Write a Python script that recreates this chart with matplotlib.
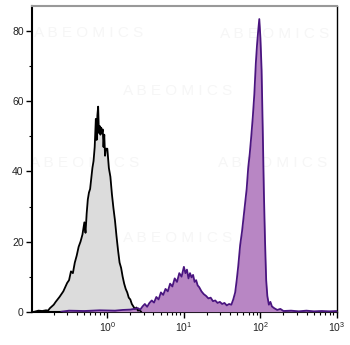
import numpy as np
import matplotlib
matplotlib.use("Agg")
import matplotlib.pyplot as plt
from matplotlib.ticker import FixedLocator, NullFormatter

plt.rcParams['font.family'] = ['Liberation Sans', 'DejaVu Sans']
plt.rcParams['mathtext.default'] = 'regular'

# isotype control histogram (log10 of fluorescence, count)
ctrl_log = [-0.95, -0.90, -0.85, -0.80, -0.775, -0.75, -0.725, -0.70, -0.675, -0.65,
            -0.625, -0.60, -0.575, -0.55, -0.525, -0.50, -0.475, -0.45, -0.425, -0.40,
            -0.375, -0.35, -0.325, -0.30, -0.285, -0.27, -0.255, -0.24, -0.225, -0.21,
            -0.195, -0.18, -0.165, -0.15, -0.14, -0.13, -0.12, -0.11, -0.10, -0.09,
            -0.08, -0.07, -0.06, -0.05, -0.04, -0.03, -0.02, 0.0, 0.02, 0.04,
            0.06, 0.08, 0.10, 0.12, 0.14, 0.16, 0.18, 0.20, 0.22, 0.24,
            0.26, 0.28, 0.30, 0.32, 0.34, 0.36, 0.38, 0.40, 0.42, 0.44]
ctrl_cnt = [0.0, 0.3, 0.2, 0.4, 0.3, 1.0, 1.5, 2.0, 2.8, 3.5,
            4.2, 5.0, 5.8, 7.0, 8.2, 9.0, 11.5, 11.0, 14.0, 16.0,
            18.5, 20.0, 22.0, 25.5, 22.5, 28.0, 32.0, 34.0, 35.0, 38.0,
            41.0, 43.0, 47.0, 55.0, 49.0, 56.0, 58.5, 51.0, 53.0, 50.5,
            52.5, 51.0, 52.0, 47.0, 50.5, 44.5, 46.5, 46.5, 41.0, 38.5,
            33.5, 29.5, 26.0, 21.5, 17.5, 14.0, 12.5, 10.0, 8.0, 6.5,
            5.5, 4.0, 3.5, 2.2, 1.5, 0.8, 1.2, 0.3, 0.5, 0.0]

# stained sample histogram
stain_log = [-0.6, -0.5, -0.3, -0.1, 0.1, 0.2, 0.3, 0.35, 0.40, 0.43,
             0.46, 0.49, 0.52, 0.55, 0.58, 0.61, 0.64, 0.67, 0.70, 0.73,
             0.76, 0.79, 0.82, 0.85, 0.88, 0.91, 0.94, 0.97, 1.00, 1.02,
             1.04, 1.06, 1.08, 1.10, 1.12, 1.14, 1.16, 1.18, 1.20, 1.23,
             1.26, 1.29, 1.32, 1.35, 1.38, 1.41, 1.44, 1.47, 1.50, 1.53,
             1.56, 1.59, 1.62, 1.645, 1.67, 1.69, 1.71, 1.735, 1.76, 1.78,
             1.80, 1.82, 1.84, 1.86, 1.88, 1.90, 1.92, 1.94, 1.955, 1.97,
             1.985, 2.00, 2.015, 2.03, 2.045, 2.06, 2.075, 2.09, 2.11, 2.13,
             2.15, 2.18, 2.22, 2.26, 2.30, 2.40, 2.5, 2.6, 2.7, 2.8, 2.9, 3.0]
stain_cnt = [0.0, 0.3, 0.2, 0.4, 0.3, 0.5, 0.6, 0.8, 1.0, 0.6,
             1.5, 2.2, 1.4, 2.5, 3.2, 2.6, 4.2, 3.5, 5.5, 4.8,
             6.5, 5.8, 8.0, 7.2, 9.5, 8.5, 11.0, 10.0, 12.8, 11.0,
             12.0, 9.5, 11.0, 9.8, 10.5, 8.5, 9.0, 7.5, 7.0, 5.8,
             5.0, 4.5, 3.8, 4.0, 3.0, 3.2, 2.5, 2.8, 2.2, 2.5,
             1.8, 2.2, 2.0, 3.5, 5.5, 9.0, 13.0, 19.0, 23.0, 27.0,
             31.0, 35.0, 41.0, 45.0, 50.0, 55.5, 62.0, 71.0, 76.0, 80.0,
             83.5, 78.0, 69.0, 52.0, 34.0, 20.0, 9.0, 4.5, 2.0, 2.8,
             1.5, 1.0, 0.5, 0.8, 0.2, 0.3, 0.1, 0.3, 0.1, 0.2, 0.1, 0.2]

y_ticks = [0, 20, 40, 60, 80]
x_ticks = [1, 10, 100, 1000]
x_labels = ['$10^{0}$', '$10^{1}$', '$10^{2}$', '$10^{3}$']

xc = 10 ** np.array(ctrl_log)
xs = 10 ** np.array(stain_log)

fig = plt.figure(figsize=(3.5, 3.45), dpi=100)

# faint watermark, drawn underneath the axes
wm = [(89, 33), (275, 34), (178, 91), (85, 163), (273, 163), (178, 238)]
for px, py in wm:
    fig.text(px / 350, 1 - py / 345, 'A B E O M I C S', fontsize=11,
             color='#f6f6f6', ha='center', va='center', zorder=-5)

ax = fig.add_axes([32 / 350, 33.3 / 345, 305 / 350, 306 / 345])
ax.patch.set_alpha(0)

ax.fill_between(xc, ctrl_cnt, color='#dcdcdc', lw=0, zorder=2)
ax.fill_between(xs, stain_cnt, color='#b886c4', lw=0, zorder=3)
ax.plot(xc, ctrl_cnt, color='black', lw=1.3, zorder=4)
ax.plot(xs, stain_cnt, color='#4a1580', lw=1.3, zorder=5)

ax.set_xscale('log')
ax.set_xlim(10 ** -0.984, 1000)
ax.set_ylim(0, 87.3)

ax.yaxis.set_major_locator(FixedLocator(y_ticks))
ax.yaxis.set_minor_locator(FixedLocator([10, 30, 50, 70]))
ax.set_xticks(x_ticks)
ax.set_xticklabels(x_labels)
ax.xaxis.set_minor_formatter(NullFormatter())

ax.tick_params(axis='both', which='major', length=4, width=1, labelsize=7.5,
               direction='out', pad=2, colors='black')
ax.tick_params(axis='both', which='minor', length=2.5, width=0.8, direction='out')
ax.tick_params(axis='y', labelcolor='#222222')
ax.tick_params(axis='x', labelcolor='#222222')

ax.spines['left'].set_linewidth(1.5)
ax.spines['bottom'].set_linewidth(1.5)
ax.spines['right'].set_linewidth(1.0)
ax.spines['top'].set_color('#999999')
ax.spines['top'].set_linewidth(1.5)

fig.savefig('out.png', dpi=100)
